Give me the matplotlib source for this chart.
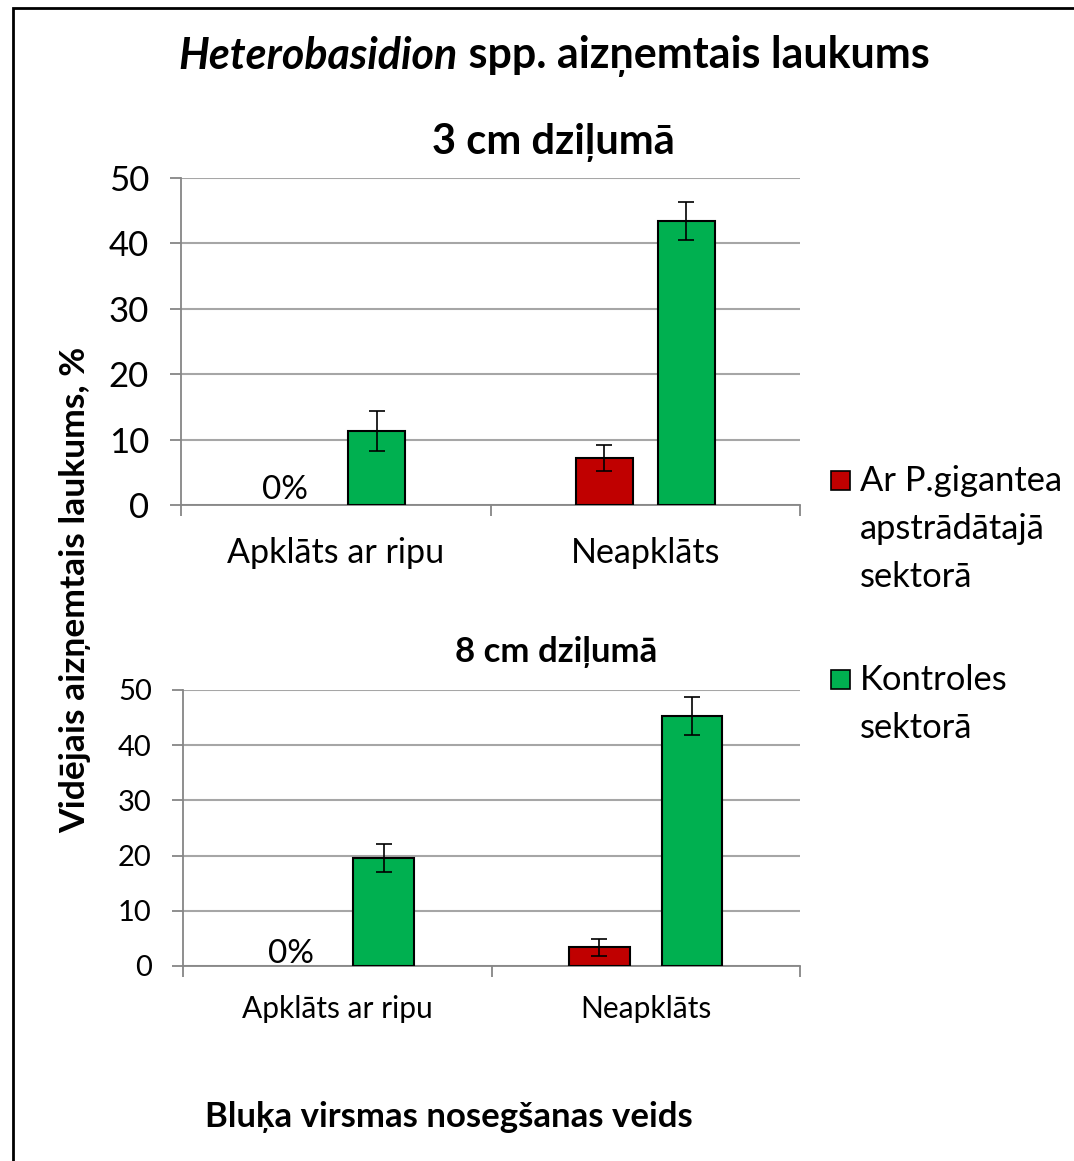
import matplotlib
matplotlib.use("Agg")
import matplotlib.pyplot as plt
from matplotlib.patches import Rectangle
import numpy as np

plt.rcParams['font.family'] = ['Lato', 'DejaVu Sans']

categories = ["Apklāts ar ripu", "Neapklāts"]
series_names = ["Ar P.gigantea\napstrādātajā\nsektorā", "Kontroles\nsektorā"]
colors = ["#C00000", "#00B050"]

# 3 cm depth
top_treated = [0.0, 7.2]
top_treated_err = [0.0, 2.0]
top_control = [11.3, 43.4]
top_control_err = [3.0, 2.9]

# 8 cm depth
bot_treated = [0.0, 3.4]
bot_treated_err = [0.0, 1.5]
bot_control = [19.6, 45.3]
bot_control_err = [2.5, 3.4]

yticks = [0, 10, 20, 30, 40, 50]

W, H = 1074, 1161
fig = plt.figure(figsize=(W / 100, H / 100), dpi=100)

grid_col = "#A6A6A6"
axis_col = "#868686"


def setup(ax, treated, terr, control, cerr, width, off, tick_fs, tick_pad, cat_fs, zero_fs,
          cat_pad, zero_dx, zero_y):
    x = np.arange(len(categories))
    ec_t = ["black" if v > 0 else "none" for v in treated]
    ax.bar(x - off, treated, width, color=colors[0], edgecolor=ec_t, linewidth=1.5, zorder=3)
    ax.bar(x + off, control, width, color=colors[1], edgecolor="black", linewidth=1.5, zorder=3)
    ax.errorbar(x[1:] - off, treated[1:], yerr=terr[1:], fmt="none", ecolor="black",
                elinewidth=1.2, capsize=6, capthick=1.2, zorder=4)
    ax.errorbar(x + off, control, yerr=cerr, fmt="none", ecolor="black",
                elinewidth=1.2, capsize=6, capthick=1.2, zorder=4)
    for i, v in enumerate(treated):
        if v == 0:
            ax.text(x[i] - off + zero_dx, zero_y, "0%", ha="center", va="bottom",
                    fontsize=zero_fs, zorder=5)
    ax.set_xlim(-0.5, len(categories) - 0.5)
    ax.set_ylim(0, 50)
    ax.set_yticks(yticks)
    ax.set_yticklabels([str(t) for t in yticks], fontsize=tick_fs)
    ax.set_xticks(np.arange(len(categories) + 1) - 0.5)
    ax.set_xticklabels([])
    ax.set_xticks(x, minor=True)
    ax.set_xticklabels(categories, minor=True, fontsize=cat_fs)
    ax.tick_params(axis="x", which="minor", length=0, pad=cat_pad)
    ax.tick_params(axis="x", which="major", length=8, width=1.3, color=axis_col, direction="out")
    ax.tick_params(axis="y", length=8, width=1.3, color=axis_col, direction="out", pad=tick_pad)
    ax.yaxis.grid(True, color=grid_col, linewidth=1.5, zorder=0)
    ax.set_axisbelow(True)
    for s in ["top", "right"]:
        ax.spines[s].set_visible(False)
    for s in ["left", "bottom"]:
        ax.spines[s].set_color(axis_col)
        ax.spines[s].set_linewidth(1.3)


ax1 = fig.add_axes([181 / W, 1 - 505 / H, (800 - 181) / W, (505 - 178) / H])
setup(ax1, top_treated, top_treated_err, top_control, top_control_err,
      0.184, 0.133, 25, 15, 24.5, 24, 23, -0.03, 0.0)

ax2 = fig.add_axes([183 / W, 1 - 966 / H, (800 - 183) / W, (966 - 690) / H])
setup(ax2, bot_treated, bot_treated_err, bot_control, bot_control_err,
      0.195, 0.15, 21, 14.5, 21.5, 24, 21, 0.0, -0.6)

# frame
fig.patches.append(Rectangle((13 / W, -0.1), 1.2, 1 - 8 / H + 0.1, transform=fig.transFigure,
                             fill=False, edgecolor="black", linewidth=2))

# main title: bold italic genus + bold rest, centered together
title_y = 1 - 56 / H
t1 = fig.text(0, title_y, "Heterobasidion", ha="left", va="center",
              fontsize=31, fontweight="bold", fontstyle="italic")
t2 = fig.text(0, title_y, " spp. aizņemtais laukums", ha="left", va="center",
              fontsize=31, fontweight="bold")
fig.canvas.draw()
r = fig.canvas.get_renderer()
w1 = t1.get_window_extent(r).width
w2 = t2.get_window_extent(r).width
x0 = 554 - (w1 + w2) / 2
t1.set_x(x0 / W)
t2.set_x((x0 + w1) / W)

fig.text(553 / W, 1 - 143 / H, "3 cm dziļumā", ha="center", va="center",
         fontsize=30, fontweight="bold")
fig.text(556 / W, 1 - 652 / H, "8 cm dziļumā", ha="center", va="center",
         fontsize=25, fontweight="bold")
fig.text(75 / W, 1 - 590 / H, "Vidējais aizņemtais laukums, %", ha="center", va="center",
         rotation=90, fontsize=25.5, fontweight="bold")
fig.text(449 / W, 1 - 1117 / H, "Bluķa virsmas nosegšanas veids", ha="center", va="center",
         fontsize=25, fontweight="bold")

# legend
leg_y = [480, 679]
for name, col, yy in zip(series_names, colors, leg_y):
    fig.patches.append(Rectangle((831 / W, 1 - (yy + 10) / H), 19 / W, 19 / H,
                                 transform=fig.transFigure, facecolor=col,
                                 edgecolor="black", linewidth=1.2))
    fig.text(860 / W, 1 - (yy - 15) / H, name, ha="left", va="top", fontsize=24.8,
             linespacing=1.62)

fig.savefig("out.png", dpi=100)
